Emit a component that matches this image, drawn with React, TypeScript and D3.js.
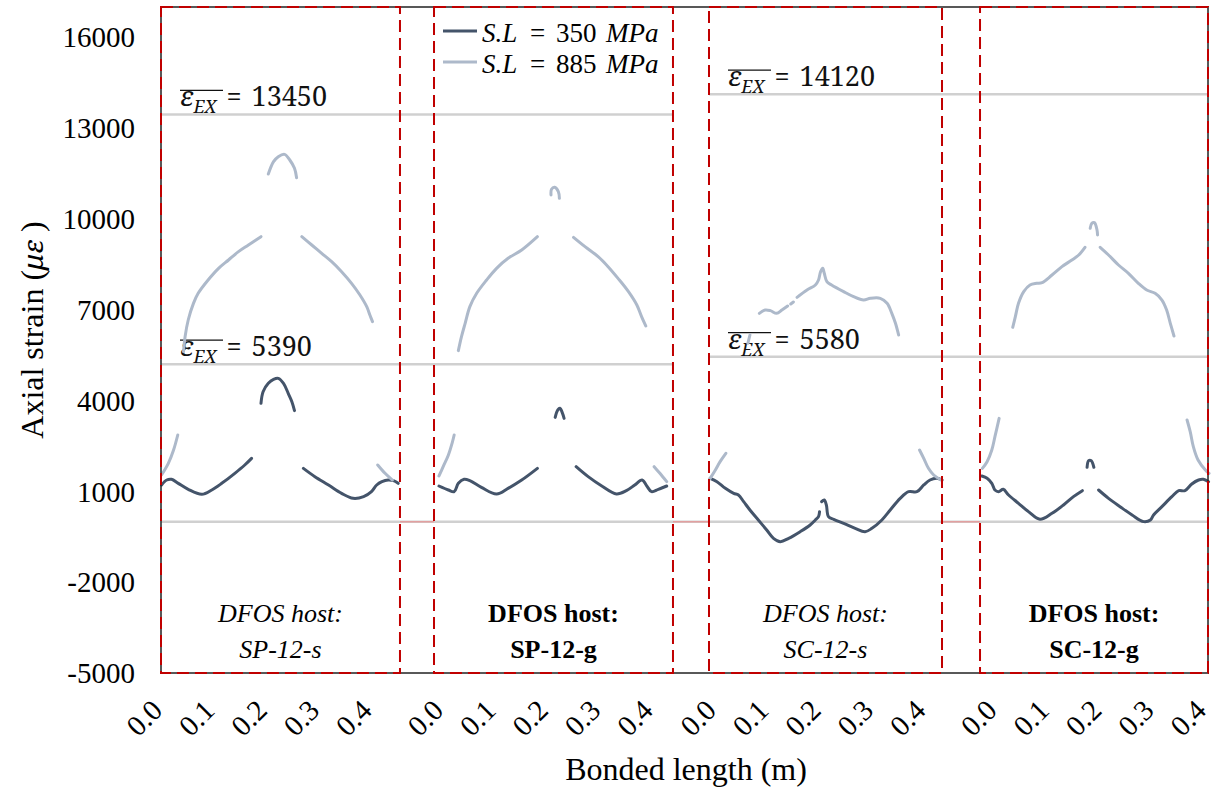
import React from 'react';
import * as d3 from 'd3';

const width = 1212;
const height = 791;
const plot = { left: 161, right: 1208, top: 7, bottom: 673 };

// y axis
const yTicks = [-5000, -2000, 1000, 4000, 7000, 10000, 13000, 16000];
// x axis (each specimen restarts at 0.0)
const xTicks = [0, 0.1, 0.2, 0.3, 0.4];
const xTickLabels = ['0.0', '0.1', '0.2', '0.3', '0.4'];

// specimens
const hosts = ['SP-12-s', 'SP-12-g', 'SC-12-s', 'SC-12-g'];
const hostItalic = [true, false, true, false];
const dataStart = [0, 0.529, 1.049, 1.568];
const tickStart = [0, 0.537, 1.058, 1.594];
const boxLeft = [0, 0.5215, 1.0468, 1.5645];
const boxRight = [0.4565, 0.978, 1.4919, 2.0];

// reference lines (mean strain from extensometer)
const refValues = [13450, 5200, 14120, 5450];
const refLabels = ['13450', '5390', '14120', '5580'];
const refFrom = [0, 0, 1.0468, 1.0468];
const refTo = [0.978, 0.978, 2.0, 2.0];

// legend
const legendLabels = ['350', '885'];

type Pt = [number, number | null];

// S.L = 350 MPa
const sp12sDark: Pt[] = [
  [0.001, 1210], [0.011, 1375], [0.02, 1397], [0.033, 1265], [0.052, 1067], [0.078, 902], [0.097, 1045], [0.116, 1265], [0.141, 1596], [0.16, 1871], [0.173, 2091], [0.182, null],
  [0.191, 3908], [0.195, 4293], [0.205, 4569], [0.215, 4701], [0.224, 4734], [0.234, 4569], [0.243, 4238], [0.25, 3963], [0.255, 3666], [0.263, null],
  [0.272, 1761], [0.294, 1486], [0.32, 1210], [0.345, 935], [0.367, 770], [0.387, 825], [0.402, 990], [0.412, 1210], [0.422, 1320], [0.434, 1375], [0.444, 1353], [0.453, 1265],
];
const sp12gDark: Pt[] = [
  [0.002, 1177], [0.02, 1045], [0.031, 990], [0.039, 1265], [0.05, 1397], [0.061, 1353], [0.083, 1133], [0.112, 913], [0.134, 1100], [0.16, 1375], [0.19, 1761], [0.207, null],
  [0.224, 3445], [0.229, 3688], [0.233, 3743], [0.238, 3578], [0.241, 3412], [0.252, null],
  [0.264, 1816], [0.287, 1486], [0.313, 1177], [0.341, 913], [0.36, 1023], [0.376, 1210], [0.39, 1375], [0.399, 1177], [0.408, 990], [0.421, 1067], [0.437, 1177],
];
const sc12sDark: Pt[] = [
  [0, 1431], [0.013, 1321], [0.029, 1101], [0.045, 935], [0.054, 880], [0.064, 660], [0.076, 385], [0.092, 55], [0.108, -276], [0.121, -551], [0.134, -661], [0.15, -551], [0.172, -331], [0.191, -111], [0.201, 55], [0.207, 165], [0.209, 330], [0.211, null],
  [0.213, 660], [0.218, 715], [0.222, 550], [0.226, 165], [0.236, 77], [0.255, -56], [0.277, -221], [0.296, -331], [0.309, -221], [0.328, 55], [0.344, 385], [0.363, 770], [0.379, 990], [0.395, 990], [0.408, 1211], [0.42, 1376], [0.433, 1431], [0.443, 1376],
];
const sc12gDark: Pt[] = [
  [0, 1508], [0.01, 1431], [0.019, 1265], [0.025, 1045], [0.032, 990], [0.041, 1067], [0.051, 880], [0.07, 605], [0.089, 330], [0.111, 76], [0.134, 274], [0.156, 550], [0.175, 825], [0.192, 1023], [0.197, null],
  [0.201, 1794], [0.204, 2014], [0.209, 2014], [0.214, 1794], [0.218, null],
  [0.223, 1045], [0.242, 770], [0.264, 495], [0.287, 219], [0.309, 0], [0.322, 55], [0.328, 219], [0.344, 495], [0.363, 825], [0.376, 1023], [0.388, 1023], [0.401, 1243], [0.414, 1376], [0.423, 1398], [0.433, 1320],
];

// S.L = 885 MPa
const sp12sLight: Pt[] = [
  [0.001, 1541], [0.014, 1926], [0.024, 2366], [0.032, 2862], [0.038, null],
  [0.043, 5615], [0.046, 6110], [0.052, 6661], [0.062, 7211], [0.071, 7542], [0.09, 7982], [0.11, 8367], [0.129, 8643], [0.148, 8918], [0.167, 9139], [0.191, 9413], [0.198, null],
  [0.205, 11484], [0.215, 11891], [0.224, 12056], [0.236, 12133], [0.246, 11946], [0.255, 11671], [0.259, 11362], [0.264, null],
  [0.269, 9413], [0.288, 9139], [0.307, 8863], [0.326, 8588], [0.345, 8257], [0.364, 7872], [0.38, 7487], [0.393, 7101], [0.399, 6826], [0.404, 6606], [0.409, null],
  [0.414, 1871], [0.428, 1596], [0.442, 1375],
];
const sp12gLight: Pt[] = [
  [0.002, 1508], [0.01, 1816], [0.02, 2202], [0.027, 2587], [0.031, 2862], [0.035, null],
  [0.039, 5648], [0.045, 6110], [0.052, 6551], [0.061, 7101], [0.074, 7542], [0.093, 7982], [0.112, 8367], [0.134, 8698], [0.16, 8973], [0.19, 9413], [0.203, null],
  [0.216, 10790], [0.217, 10977], [0.223, 11043], [0.23, 10900], [0.232, 10680], [0.245, null],
  [0.259, 9391], [0.281, 9083], [0.306, 8753], [0.325, 8423], [0.344, 8037], [0.364, 7597], [0.38, 7156], [0.389, 6771], [0.397, 6463], [0.405, null],
  [0.413, 1816], [0.424, 1596], [0.437, 1320],
];
const sc12sLight: Pt[] = [
  [0, 1431], [0.01, 1706], [0.019, 1982], [0.03, 2257], [0.05, null],
  [0.072, 5890], [0.076, 6165], [0.085, null],
  [0.094, 6881], [0.105, 6991], [0.115, 6969], [0.127, 6881], [0.137, 6991], [0.148, 7124], [0.151, null],
  [0.154, 7190], [0.159, 7256], [0.162, null],
  [0.166, 7410], [0.185, 7652], [0.201, 7817], [0.207, 7982], [0.211, 8258], [0.215, 8368], [0.218, 8203], [0.223, 7927], [0.232, 7817], [0.255, 7597], [0.274, 7432], [0.293, 7322], [0.306, 7377], [0.325, 7377], [0.338, 7212], [0.347, 6881], [0.354, 6551], [0.36, 6166], [0.38, null],
  [0.4, 2367], [0.408, 2091], [0.417, 1761], [0.427, 1541], [0.441, 1376],
];
const sc12gLight: Pt[] = [
  [0.001, 1761], [0.01, 1981], [0.019, 2367], [0.025, 2807], [0.033, 3412], [0.045, null],
  [0.059, 6418], [0.064, 6771], [0.07, 7211], [0.08, 7597], [0.092, 7817], [0.105, 7872], [0.115, 7894], [0.134, 8147], [0.153, 8423], [0.172, 8643], [0.185, 8808], [0.197, 9061], [0.202, null],
  [0.207, 9689], [0.21, 9854], [0.215, 9876], [0.22, 9634], [0.221, 9469], [0.223, null],
  [0.226, 9061], [0.242, 8808], [0.261, 8478], [0.28, 8202], [0.299, 7872], [0.315, 7652], [0.331, 7542], [0.344, 7321], [0.353, 6991], [0.36, 6551], [0.367, 6132], [0.38, null],
  [0.392, 3357], [0.398, 2972], [0.404, 2477], [0.413, 2036], [0.427, 1706], [0.434, 1596],
];

const darkSeries = [sp12sDark, sp12gDark, sc12sDark, sc12gDark];
const lightSeries = [sp12sLight, sp12gLight, sc12sLight, sc12gLight];

const darkColor = '#44546a';
const lightColor = '#adb9ca';
const refColor = '#d0d0d0';
const boxColor = '#c00000';
const serif = { fontFamily: "'Liberation Serif'" };
const math = { fontFamily: "'Noto Serif'" };

const App = () => {
  const x = d3.scaleLinear().domain([0, 2.0]).range([plot.left, plot.right]);
  const y = d3.scaleLinear().domain([-5000, 17000]).range([plot.bottom, plot.top]);

  const lineFor = (offset: number) =>
    d3.line<Pt>()
      .defined(d => d[1] !== null)
      .x(d => x(offset + d[0]))
      .y(d => y(d[1] as number))
      .curve(d3.curveCatmullRom.alpha(0.5));

  return (
    <svg width={width} height={height}
      style={{ position: 'absolute', left: 0, top: 0, display: 'block' }}>
      <rect width={width} height={height} fill="white" />

      {/* zero line */}
      <line x1={plot.left} x2={plot.right} y1={y(0)} y2={y(0)} stroke={refColor} strokeWidth={2.5} />
      {boxLeft.slice(1).map((bl, i) => (
        <line key={i} x1={x(boxRight[i])} x2={x(bl)} y1={y(0)} y2={y(0)} stroke="#e2a0a0" strokeWidth={1.5} />
      ))}

      {/* extensometer reference lines */}
      {refValues.map((v, i) => (
        <g key={i}>
          <line x1={x(refFrom[i])} x2={x(refTo[i])} y1={y(v)} y2={y(v)} stroke={refColor} strokeWidth={2.5} />
          <line x1={x(refFrom[i]) + 19} x2={x(refFrom[i]) + 62} y1={y(v) - 24} y2={y(v) - 24} stroke="#111" strokeWidth={1.2} />
          <text x={x(refFrom[i]) + 19} y={y(v) - 8} fontSize={27} fill="#111" style={math}>
            <tspan fontStyle="italic">ε</tspan>
            <tspan fontStyle="italic" fontSize={18} dy={7}>EX</tspan>
            <tspan dy={-7} dx={10}>=</tspan>
            <tspan dx={10}>{refLabels[i]}</tspan>
          </text>
        </g>
      ))}

      {/* data */}
      {darkSeries.map((s, i) => (
        <path key={'d' + i} d={lineFor(dataStart[i])(s) || ''} fill="none" stroke={darkColor} strokeWidth={3} strokeLinecap="round" strokeLinejoin="round" />
      ))}
      {lightSeries.map((s, i) => (
        <path key={'l' + i} d={lineFor(dataStart[i])(s) || ''} fill="none" stroke={lightColor} strokeWidth={3} strokeLinecap="round" strokeLinejoin="round" />
      ))}

      {/* plot frame */}
      <rect x={plot.left} y={plot.top} width={plot.right - plot.left} height={plot.bottom - plot.top}
        fill="none" stroke="#222" strokeWidth={1.5} />

      {/* specimen boxes */}
      {hosts.map((h, i) => {
        const x0 = x(boxLeft[i]);
        const x1 = x(boxRight[i]);
        const cx = (x0 + x1) / 2;
        return (
          <g key={h}>
            <rect x={x0} y={plot.top} width={x1 - x0} height={plot.bottom - plot.top}
              fill="none" stroke={boxColor} strokeWidth={2} strokeDasharray="12 6" />
            <text x={cx} y={622} textAnchor="middle" fontSize={26} style={serif}
              fontStyle={hostItalic[i] ? 'italic' : 'normal'} fontWeight={hostItalic[i] ? 'normal' : 'bold'}>
              DFOS host:
            </text>
            <text x={cx} y={658} textAnchor="middle" fontSize={26} style={serif}
              fontStyle={hostItalic[i] ? 'italic' : 'normal'} fontWeight={hostItalic[i] ? 'normal' : 'bold'}>
              {h}
            </text>
          </g>
        );
      })}

      {/* y axis */}
      {yTicks.map(t => (
        <text key={t} x={135} y={y(t)} dy="0.35em" textAnchor="end" fontSize={29} style={serif}>{t}</text>
      ))}
      <text transform={`translate(43, 330) rotate(-90)`} textAnchor="middle" fontSize={32} style={serif}>
        Axial strain (<tspan fontStyle="italic" style={math} fontSize={28}>με</tspan> )
      </text>

      {/* x axis */}
      {tickStart.map((ts, p) =>
        xTicks.map((t, k) => (
          <text key={p + '-' + k} transform={`translate(${x(ts + t) + 3}, 712) rotate(-45)`}
            textAnchor="end" fontSize={29} style={serif}>{xTickLabels[k]}</text>
        ))
      )}
      <text x={686} y={780} textAnchor="middle" fontSize={32} style={serif}>Bonded length (m)</text>

      {/* legend */}
      {legendLabels.map((l, i) => (
        <g key={l}>
          <line x1={443} x2={477} y1={31 + i * 31} y2={31 + i * 31} stroke={i === 0 ? darkColor : lightColor} strokeWidth={3} />
          <text x={482} y={42 + i * 31} fontSize={27} style={serif}>
            <tspan fontStyle="italic">S.L</tspan>
            <tspan x={530}>=</tspan>
            <tspan x={556}>{l}</tspan>
            <tspan x={606} fontStyle="italic">MPa</tspan>
          </text>
        </g>
      ))}
    </svg>
  );
};

export default App;
